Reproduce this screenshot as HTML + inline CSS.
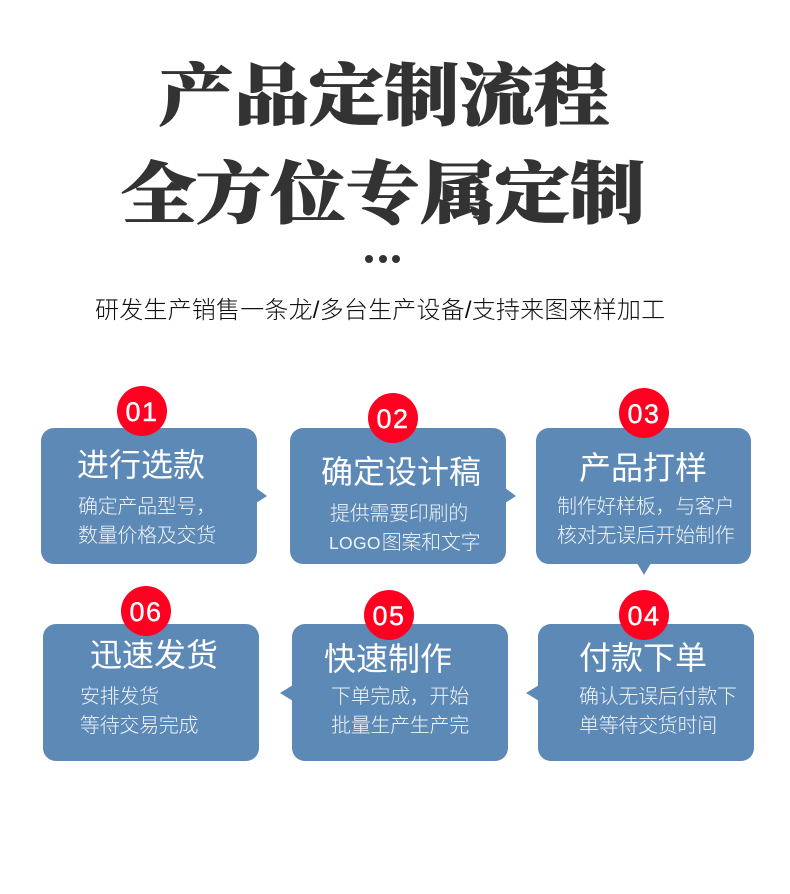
<!DOCTYPE html>
<html lang="zh"><head><meta charset="utf-8"><style>
html,body{margin:0;padding:0;background:#fff}
#p{position:relative;width:790px;height:894px;overflow:hidden;background:#fff;font-family:"Liberation Sans","Noto Sans CJK SC",sans-serif}
#p div{position:absolute;white-space:nowrap}
.h{font-family:"Liberation Serif","Noto Serif CJK SC",serif;font-weight:900;font-size:75px;line-height:76px;color:#333;-webkit-text-stroke:1.2px #333;transform:scaleY(.9);transform-origin:50% 50%}
.t{font-size:32px;line-height:36px;color:#fff;letter-spacing:0}
.s{font-size:20px;line-height:24px;color:#f0f4f8;font-weight:300;letter-spacing:-.3px}
.s span{font-size:17.5px;letter-spacing:.3px;margin-right:1px}
.n{width:50px;height:50px;border-radius:50%;background:#ff0020;color:#fff;font-size:27px;line-height:52px;text-align:center;letter-spacing:1.5px;-webkit-text-stroke:.4px #fff}
svg{position:absolute;left:0;top:0}
</style></head><body><div id="p">
<div class="h" style="left:159px;top:60px">产品定制流程</div>
<div class="h" style="left:121px;top:158px;letter-spacing:-.2px">全方位专属定制</div>
<div style="left:365px;top:255px;width:8px;height:8px;border-radius:50%;background:#333"></div>
<div style="left:379px;top:255px;width:8px;height:8px;border-radius:50%;background:#333"></div>
<div style="left:392px;top:255px;width:8px;height:8px;border-radius:50%;background:#333"></div>
<div style="left:95px;top:297px;font-size:24px;line-height:28px;color:#111;font-weight:300;letter-spacing:.2px">研发生产销售一条龙/多台生产设备/支持来图来样加工</div>
<svg width="790" height="894" viewBox="0 0 790 894">
<g fill="#5d89b6">
<rect x="41" y="428" width="216" height="136" rx="13"/><path d="M256 488L267 496L256 503Z"/>
<rect x="290" y="428" width="216" height="136" rx="13"/><path d="M505 488L516 496L505 503Z"/>
<rect x="536" y="428" width="215" height="136" rx="13"/><path d="M637 563L644 575L651 563Z"/>
<rect x="43" y="624" width="216" height="137" rx="13"/>
<rect x="292" y="624" width="216" height="137" rx="13"/><path d="M293 685L280 693L293 701Z"/>
<rect x="538" y="624" width="216" height="137" rx="13"/><path d="M539 685L526 693L539 701Z"/>
</g></svg>
<div class="n" style="left:117px;top:386px">01</div>
<div class="n" style="left:368px;top:393px">02</div>
<div class="n" style="left:619px;top:388px">03</div>
<div class="n" style="left:121px;top:586px">06</div>
<div class="n" style="left:364px;top:590px">05</div>
<div class="n" style="left:619px;top:590px">04</div>
<div class="t" style="left:77px;top:447px">进行选款</div>
<div class="s" style="left:78px;top:495px">确定产品型号，</div>
<div class="s" style="left:78px;top:524px">数量价格及交货</div>
<div class="t" style="left:321px;top:454px">确定设计稿</div>
<div class="s" style="left:330px;top:502px">提供需要印刷的</div>
<div class="s" style="left:329px;top:531px"><span>LOGO</span>图案和文字</div>
<div class="t" style="left:579px;top:450px">产品打样</div>
<div class="s" style="left:557px;top:495px">制作好样板，与客户</div>
<div class="s" style="left:557px;top:524px">核对无误后开始制作</div>
<div class="t" style="left:90px;top:637px">迅速发货</div>
<div class="s" style="left:80px;top:685px">安排发货</div>
<div class="s" style="left:80px;top:714px">等待交易完成</div>
<div class="t" style="left:324px;top:641px">快速制作</div>
<div class="s" style="left:331px;top:685px">下单完成，开始</div>
<div class="s" style="left:331px;top:714px">批量生产生产完</div>
<div class="t" style="left:579px;top:640px">付款下单</div>
<div class="s" style="left:579px;top:685px">确认无误后付款下</div>
<div class="s" style="left:579px;top:714px">单等待交货时间</div>
</div></body></html>
